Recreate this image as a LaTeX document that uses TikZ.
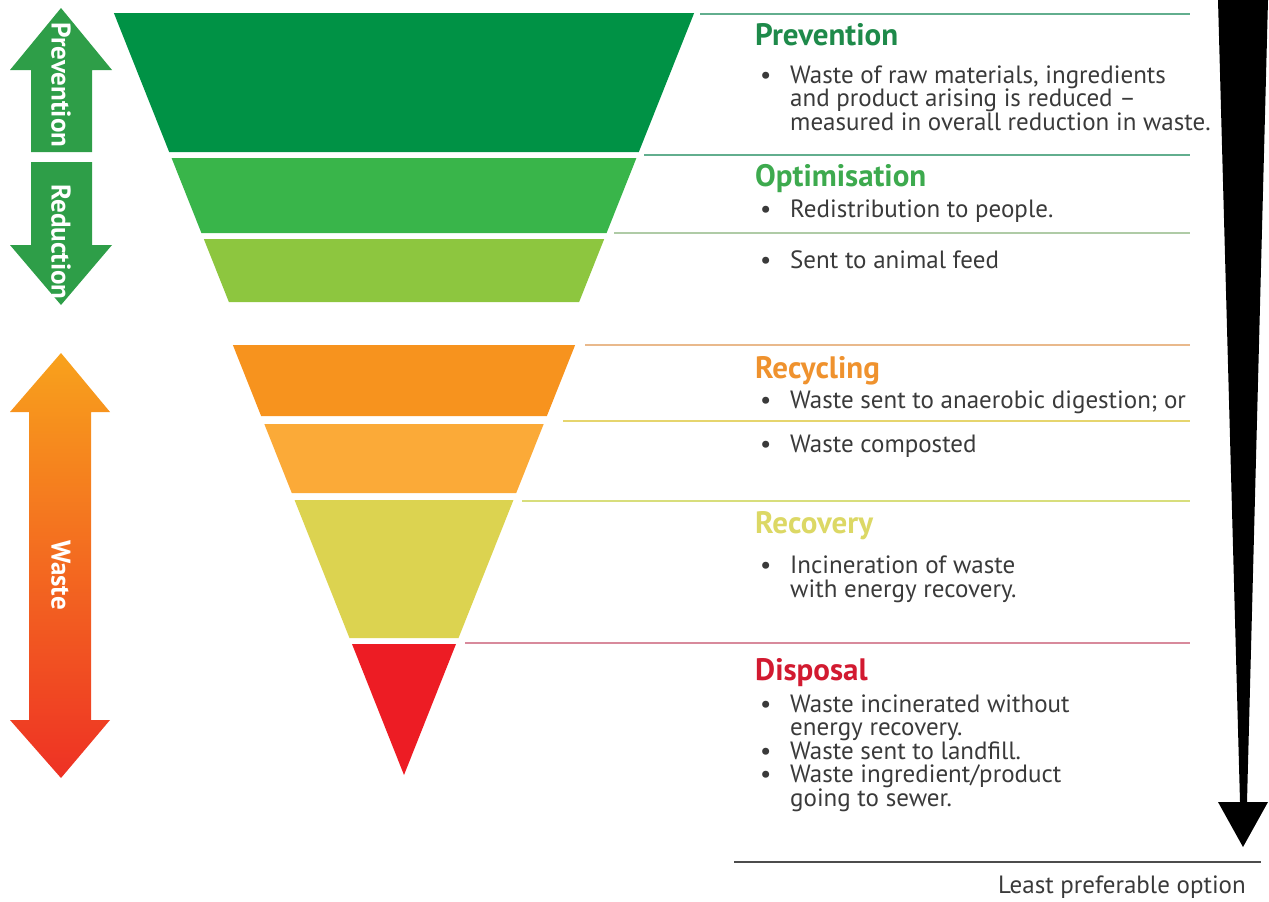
\documentclass[tikz,border=0pt]{standalone}
\usepackage{fontspec}
\setmainfont{PT Sans}
\usetikzlibrary{positioning}
\definecolor{tierdarkgreen}{HTML}{009245}
\definecolor{tiergreen}{HTML}{39B54A}
\definecolor{tierlime}{HTML}{8DC63F}
\definecolor{tierorange}{HTML}{F7931E}
\definecolor{tierlightorange}{HTML}{FBAA38}
\definecolor{tieryellow}{HTML}{DCD350}
\definecolor{tierred}{HTML}{ED1C24}
\definecolor{arrowgreen}{HTML}{2E9E48}
\definecolor{arroworange}{HTML}{F8A21C}
\definecolor{arrowred}{HTML}{EE3124}
\definecolor{headprev}{HTML}{1E8A4A}
\definecolor{headopt}{HTML}{3DAA4E}
\definecolor{headrecyc}{HTML}{EF922E}
\definecolor{headrecov}{HTML}{DCD865}
\definecolor{headdisp}{HTML}{D21A30}
\definecolor{bodygray}{HTML}{3A3A3A}
\definecolor{ruleteal}{HTML}{62AE8E}
\definecolor{rulepale}{HTML}{AFCBA6}
\definecolor{ruletan}{HTML}{E9B98C}
\definecolor{ruleyellow}{HTML}{E6D56E}
\definecolor{rulelime}{HTML}{D8DE7C}
\definecolor{rulepink}{HTML}{D88A9C}
\newcommand{\bitem}{\makebox[30pt][l]{\textbullet}}
\newcommand{\bcont}{\hspace*{30pt}}

\begin{document}
\begin{tikzpicture}[x=1pt, y=-1pt,
    tierline/.style={line width=1.8pt},
    heading/.style={anchor=base west, inner sep=0pt,
      font=\bfseries\fontsize{31}{33}\selectfont},
    bullets/.style={anchor=base west, inner sep=0pt, align=left,
      text=bodygray, font=\fontsize{25}{23.5}\selectfont},
    sidetext/.style={text=white, rotate=-90,
      font=\bfseries\fontsize{27}{27}\selectfont}]
  \useasboundingbox (0,0) rectangle (1269,902);

  % funnel bands: top, bottom, apex, colour
  \foreach \ya/\yb/\apex/\col in {13/152/742/tierdarkgreen, 158/233/742/tiergreen,
      239/302/742/tierlime, 345/416/775/tierorange, 424/493/775/tierlightorange,
      500/638/775/tieryellow}
    \fill[\col] ({404-(\apex-\ya)*0.398},\ya) -- ({404+(\apex-\ya)*0.398},\ya)
      -- ({404+(\apex-\yb)*0.398},\yb) -- ({404-(\apex-\yb)*0.398},\yb) -- cycle;
  \fill[tierred] (352,644) -- (456,644) -- (404,775) -- cycle;

  % rules to the right
  \draw[tierline, ruleteal] (700,14) -- (1190,14);
  \draw[tierline, ruleteal] (644,155) -- (1190,155);
  \draw[tierline, rulepale] (614,233) -- (1190,233);
  \draw[tierline, ruletan] (585,345) -- (1190,345);
  \draw[tierline, ruleyellow] (563,421) -- (1190,421);
  \draw[tierline, rulelime] (522,501) -- (1190,501);
  \draw[tierline, rulepink] (465,643) -- (1190,643);
  \draw[line width=2.2pt, black!70] (734,862) -- (1261,862);

  % side arrows
  \fill[arrowgreen] (61,8) -- (112,70) -- (92,70) -- (92,152) -- (31,152)
    -- (31,70) -- (10,70) -- cycle;
  \fill[arrowgreen] (31,162) -- (92,162) -- (92,245) -- (112,245) -- (61,305)
    -- (10,245) -- (31,245) -- cycle;
  \shade[top color=arroworange, middle color=arroworange!70!arrowred,
      bottom color=arrowred]
    (61,353) -- (110,412) -- (91,412) -- (91,720) -- (110,720) -- (61,778)
    -- (10,720) -- (29,720) -- (29,412) -- (10,412) -- cycle;
  \node[sidetext] (prevarrow) at (61,85) {Prevention};
  \node[sidetext] (redarrow) at (61,242) {Reduction};
  \node[sidetext] (wastearrow) at (61,575) {Waste};

  % preference arrow
  \fill[black] (1218,0) -- (1268,0) -- (1247,802) -- (1268,802) -- (1243,847)
    -- (1218,802) -- (1240,802) -- cycle;

  % texts (multi-line nodes sit on the baseline of their last line)
  \node[heading, text=headprev] (prevention) at (755,45) {Prevention};
  \node[bullets] (preventionlist) at (760,130)
    {\bitem Waste of raw materials, ingredients\\
     \bcont and product arising is reduced --\\
     \bcont measured in overall reduction in waste.};
  \node[heading, text=headopt] (optimisation) at (755,186) {Optimisation};
  \node[bullets] (peoplelist) at (760,217) {\bitem Redistribution to people.};
  \node[bullets] (feedlist) at (760,268) {\bitem Sent to animal feed};
  \node[heading, text=headrecyc] (recycling) at (755,378) {Recycling};
  \node[bullets] (digestlist) at (760,408) {\bitem Waste sent to anaerobic digestion; or};
  \node[bullets] (compostlist) at (760,452) {\bitem Waste composted};
  \node[heading, text=headrecov] (recovery) at (755,533) {Recovery};
  \node[bullets] (recoverylist) at (760,597)
    {\bitem Incineration of waste\\
     \bcont with energy recovery.};
  \node[heading, text=headdisp] (disposal) at (755,680) {Disposal};
  \node[bullets] (disposallist) at (760,806)
    {\bitem Waste incinerated without\\
     \bcont energy recovery.\\
     \bitem Waste sent to landfill.\\
     \bitem Waste ingredient/product\\
     \bcont going to sewer.};
  \node[bullets, anchor=base east] (least) at (1246,893) {Least preferable option};
\end{tikzpicture}
\end{document}
